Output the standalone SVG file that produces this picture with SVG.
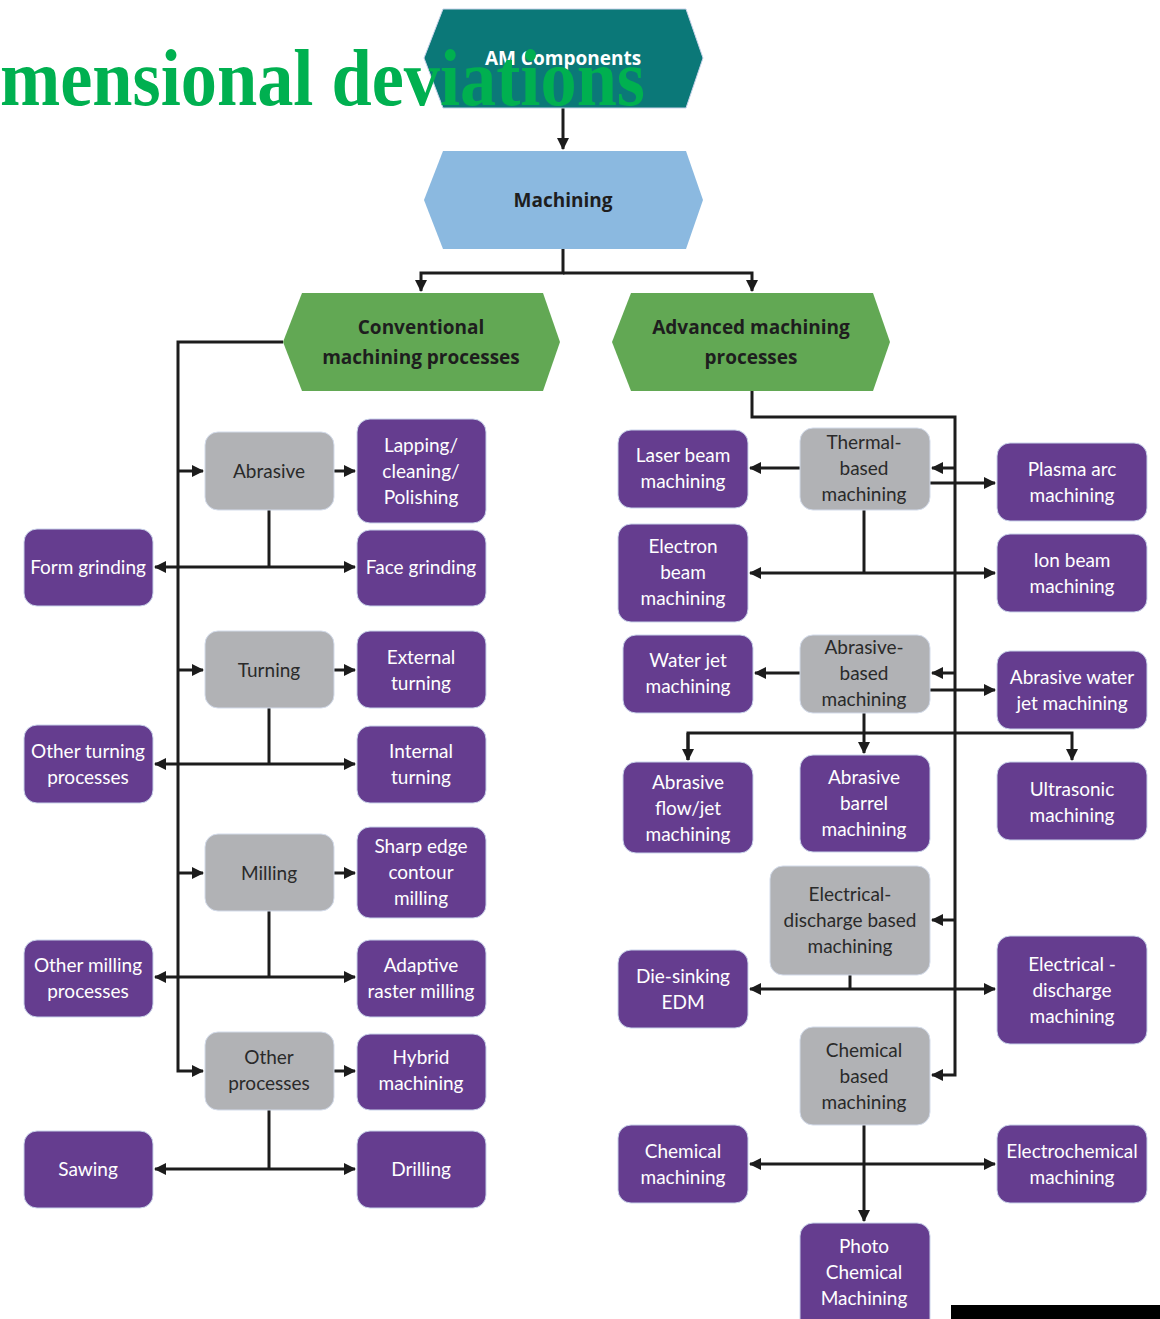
<svg xmlns="http://www.w3.org/2000/svg" width="1160" height="1319" viewBox="0 0 1160 1319">
<style>
.t{font-family:Lato,"Open Sans","Liberation Sans",sans-serif;font-size:19px;text-anchor:middle}
.w{fill:#ffffff}
.d{fill:#2a2a2a}
.h{font-family:"Open Sans","Liberation Sans",sans-serif;font-size:19px;font-weight:bold;text-anchor:middle;fill:#1e1e1e}
.p{fill:#653d8f;stroke:#c9d3ea;stroke-width:1}
.g{fill:#b1b2b5;stroke:#d3dbea;stroke-width:1}
.c{fill:none;stroke:#1c1c1c;stroke-width:3}
</style>
<defs>
<marker id="a" markerUnits="userSpaceOnUse" markerWidth="12" markerHeight="12" refX="11" refY="6" orient="auto"><path d="M0,0 L12,6 L0,12 Z" fill="#1c1c1c"/></marker>
</defs>
<rect width="1160" height="1319" fill="#ffffff"/>

<g id="connectors">
<path class="c" d="M563,108 V149" marker-end="url(#a)"/>
<path class="c" d="M563,249 V273 H421 V291" marker-end="url(#a)"/>
<path class="c" d="M563,273 H752 V291" marker-end="url(#a)"/>
<!-- conventional trunk -->
<path class="c" d="M283,342 H178 V1071 H203" marker-end="url(#a)"/>
<path class="c" d="M178,471 H203" marker-end="url(#a)"/>
<path class="c" d="M178,670 H203" marker-end="url(#a)"/>
<path class="c" d="M178,873 H203" marker-end="url(#a)"/>
<path class="c" d="M334,471 H355" marker-end="url(#a)"/>
<path class="c" d="M334,670 H355" marker-end="url(#a)"/>
<path class="c" d="M334,873 H355" marker-end="url(#a)"/>
<path class="c" d="M334,1071 H355" marker-end="url(#a)"/>
<path class="c" d="M269,510 V567"/>
<path class="c" d="M269,567 H355" marker-end="url(#a)"/>
<path class="c" d="M269,567 H155" marker-end="url(#a)"/>
<path class="c" d="M269,708 V764"/>
<path class="c" d="M269,764 H355" marker-end="url(#a)"/>
<path class="c" d="M269,764 H155" marker-end="url(#a)"/>
<path class="c" d="M269,911 V977"/>
<path class="c" d="M269,977 H355" marker-end="url(#a)"/>
<path class="c" d="M269,977 H155" marker-end="url(#a)"/>
<path class="c" d="M269,1110 V1169"/>
<path class="c" d="M269,1169 H355" marker-end="url(#a)"/>
<path class="c" d="M269,1169 H155" marker-end="url(#a)"/>
<!-- advanced trunk -->
<path class="c" d="M752,391 V417 H955 V1075 H932" marker-end="url(#a)"/>
<path class="c" d="M955,468 H932" marker-end="url(#a)"/>
<path class="c" d="M955,673 H932" marker-end="url(#a)"/>
<path class="c" d="M955,920 H932" marker-end="url(#a)"/>
<path class="c" d="M800,468 H750" marker-end="url(#a)"/>
<path class="c" d="M930,483 H995" marker-end="url(#a)"/>
<path class="c" d="M864,510 V573"/>
<path class="c" d="M864,573 H750" marker-end="url(#a)"/>
<path class="c" d="M864,573 H995" marker-end="url(#a)"/>
<path class="c" d="M800,673 H755" marker-end="url(#a)"/>
<path class="c" d="M930,690 H995" marker-end="url(#a)"/>
<path class="c" d="M864,713 V753" marker-end="url(#a)"/>
<path class="c" d="M688,760 V733 H1072 V760" marker-end="url(#a)"/>
<path class="c" d="M688,733 V760" marker-end="url(#a)"/>
<path class="c" d="M850,975 V989"/>
<path class="c" d="M850,989 H750" marker-end="url(#a)"/>
<path class="c" d="M850,989 H995" marker-end="url(#a)"/>
<path class="c" d="M864,1125 V1221" marker-end="url(#a)"/>
<path class="c" d="M864,1164 H750" marker-end="url(#a)"/>
<path class="c" d="M864,1164 H995" marker-end="url(#a)"/>
</g>

<g id="am"><polygon points="424,58 443,9 686,9 703,58 686,108 443,108" fill="#0b7878" stroke="#c9d3ea" stroke-width="1"/><text class="h" x="563" y="65" fill="#ffffff" style="fill:#ffffff">AM Components</text></g>
<g id="machining"><polygon points="424,200 443,151 686,151 703,200 686,249 443,249" fill="#8bb9e0"/><text class="h" x="563" y="207">Machining</text></g>
<g id="conventional"><polygon points="283,342 302,293 543,293 560,342 543,391 302,391" fill="#62a854"/><text class="h" x="421" y="334">Conventional</text><text class="h" x="421" y="364">machining processes</text></g>
<g id="advanced"><polygon points="612,342 631,293 873,293 890,342 873,391 631,391" fill="#62a854"/><text class="h" x="751" y="334">Advanced machining</text><text class="h" x="751" y="364">processes</text></g>

<g id="abrasive"><rect class="g" x="205" y="432" width="129" height="78" rx="13"/><text class="t d" x="269" y="478">Abrasive</text></g>
<g id="lapping"><rect class="p" x="357" y="419" width="129" height="104" rx="13"/><text class="t w" x="421" y="452">Lapping/</text><text class="t w" x="421" y="478">cleaning/</text><text class="t w" x="421" y="504">Polishing</text></g>
<g id="form-grinding"><rect class="p" x="24" y="529" width="129" height="77" rx="13"/><text class="t w" x="88" y="574">Form grinding</text></g>
<g id="face-grinding"><rect class="p" x="357" y="530" width="129" height="76" rx="13"/><text class="t w" x="421" y="574">Face grinding</text></g>
<g id="turning"><rect class="g" x="205" y="631" width="129" height="77" rx="13"/><text class="t d" x="269" y="677">Turning</text></g>
<g id="external-turning"><rect class="p" x="357" y="631" width="129" height="77" rx="13"/><text class="t w" x="421" y="664">External</text><text class="t w" x="421" y="690">turning</text></g>
<g id="other-turning"><rect class="p" x="24" y="725" width="129" height="78" rx="13"/><text class="t w" x="88" y="758">Other turning</text><text class="t w" x="88" y="784">processes</text></g>
<g id="internal-turning"><rect class="p" x="357" y="726" width="129" height="77" rx="13"/><text class="t w" x="421" y="758">Internal</text><text class="t w" x="421" y="784">turning</text></g>
<g id="milling"><rect class="g" x="205" y="834" width="129" height="77" rx="13"/><text class="t d" x="269" y="880">Milling</text></g>
<g id="sharp-edge"><rect class="p" x="357" y="827" width="129" height="91" rx="13"/><text class="t w" x="421" y="853">Sharp edge</text><text class="t w" x="421" y="879">contour</text><text class="t w" x="421" y="905">milling</text></g>
<g id="other-milling"><rect class="p" x="24" y="940" width="129" height="77" rx="13"/><text class="t w" x="88" y="972">Other milling</text><text class="t w" x="88" y="998">processes</text></g>
<g id="adaptive"><rect class="p" x="357" y="940" width="129" height="77" rx="13"/><text class="t w" x="421" y="972">Adaptive</text><text class="t w" x="421" y="998">raster milling</text></g>
<g id="other-processes"><rect class="g" x="205" y="1032" width="129" height="78" rx="13"/><text class="t d" x="269" y="1064">Other</text><text class="t d" x="269" y="1090">processes</text></g>
<g id="hybrid"><rect class="p" x="357" y="1034" width="129" height="76" rx="13"/><text class="t w" x="421" y="1064">Hybrid</text><text class="t w" x="421" y="1090">machining</text></g>
<g id="sawing"><rect class="p" x="24" y="1131" width="129" height="77" rx="13"/><text class="t w" x="88" y="1176">Sawing</text></g>
<g id="drilling"><rect class="p" x="357" y="1131" width="129" height="77" rx="13"/><text class="t w" x="421" y="1176">Drilling</text></g>

<g id="laser"><rect class="p" x="618" y="430" width="130" height="78" rx="13"/><text class="t w" x="683" y="462">Laser beam</text><text class="t w" x="683" y="488">machining</text></g>
<g id="thermal"><rect class="g" x="800" y="428" width="130" height="82" rx="13"/><text class="t d" x="864" y="449">Thermal-</text><text class="t d" x="864" y="475">based</text><text class="t d" x="864" y="501">machining</text></g>
<g id="plasma"><rect class="p" x="997" y="443" width="150" height="78" rx="13"/><text class="t w" x="1072" y="476">Plasma arc</text><text class="t w" x="1072" y="502">machining</text></g>
<g id="electron"><rect class="p" x="618" y="524" width="130" height="98" rx="13"/><text class="t w" x="683" y="553">Electron</text><text class="t w" x="683" y="579">beam</text><text class="t w" x="683" y="605">machining</text></g>
<g id="ion"><rect class="p" x="997" y="534" width="150" height="78" rx="13"/><text class="t w" x="1072" y="567">Ion beam</text><text class="t w" x="1072" y="593">machining</text></g>
<g id="water-jet"><rect class="p" x="623" y="635" width="130" height="78" rx="13"/><text class="t w" x="688" y="667">Water jet</text><text class="t w" x="688" y="693">machining</text></g>
<g id="abrasive-based"><rect class="g" x="800" y="635" width="130" height="78" rx="13"/><text class="t d" x="864" y="654">Abrasive-</text><text class="t d" x="864" y="680">based</text><text class="t d" x="864" y="706">machining</text></g>
<g id="abrasive-water-jet"><rect class="p" x="997" y="651" width="150" height="78" rx="13"/><text class="t w" x="1072" y="684">Abrasive water</text><text class="t w" x="1072" y="710">jet machining</text></g>
<g id="abrasive-flow"><rect class="p" x="623" y="762" width="130" height="91" rx="13"/><text class="t w" x="688" y="789">Abrasive</text><text class="t w" x="688" y="815">flow/jet</text><text class="t w" x="688" y="841">machining</text></g>
<g id="abrasive-barrel"><rect class="p" x="800" y="755" width="130" height="97" rx="13"/><text class="t w" x="864" y="784">Abrasive</text><text class="t w" x="864" y="810">barrel</text><text class="t w" x="864" y="836">machining</text></g>
<g id="ultrasonic"><rect class="p" x="997" y="762" width="150" height="78" rx="13"/><text class="t w" x="1072" y="796">Ultrasonic</text><text class="t w" x="1072" y="822">machining</text></g>
<g id="edm-based"><rect class="g" x="770" y="866" width="160" height="109" rx="13"/><text class="t d" x="850" y="901">Electrical-</text><text class="t d" x="850" y="927">discharge based</text><text class="t d" x="850" y="953">machining</text></g>
<g id="die-sinking"><rect class="p" x="618" y="950" width="130" height="78" rx="13"/><text class="t w" x="683" y="983">Die-sinking</text><text class="t w" x="683" y="1009">EDM</text></g>
<g id="edm"><rect class="p" x="997" y="936" width="150" height="108" rx="13"/><text class="t w" x="1072" y="971">Electrical -</text><text class="t w" x="1072" y="997">discharge</text><text class="t w" x="1072" y="1023">machining</text></g>
<g id="chemical-based"><rect class="g" x="800" y="1027" width="130" height="98" rx="13"/><text class="t d" x="864" y="1057">Chemical</text><text class="t d" x="864" y="1083">based</text><text class="t d" x="864" y="1109">machining</text></g>
<g id="chemical"><rect class="p" x="618" y="1125" width="130" height="78" rx="13"/><text class="t w" x="683" y="1158">Chemical</text><text class="t w" x="683" y="1184">machining</text></g>
<g id="electrochemical"><rect class="p" x="997" y="1125" width="150" height="78" rx="13"/><text class="t w" x="1072" y="1158">Electrochemical</text><text class="t w" x="1072" y="1184">machining</text></g>
<g id="photo-chemical"><rect class="p" x="800" y="1223" width="130" height="110" rx="13"/><text class="t w" x="864" y="1253">Photo</text><text class="t w" x="864" y="1279">Chemical</text><text class="t w" x="864" y="1305">Machining</text></g>

<text x="0" y="105" font-family="'Liberation Serif',serif" font-weight="bold" font-size="80" fill="#00b050" textLength="645" lengthAdjust="spacingAndGlyphs">mensional deviations</text>
<rect x="951" y="1305" width="209" height="14" fill="#000000"/>
</svg>
